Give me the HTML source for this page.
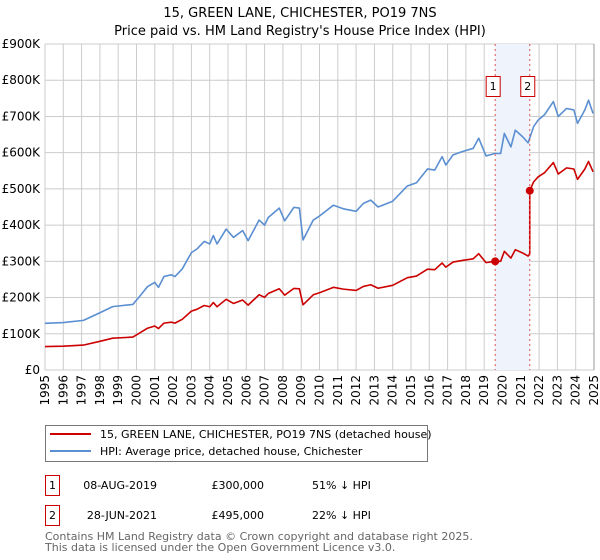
<!DOCTYPE html>
<html><head><meta charset="utf-8"><style>
body{margin:0;background:#fff;font-family:"DejaVu Sans","Liberation Sans",sans-serif;}
svg{display:block}
</style></head><body>
<svg id="chart" width="600" height="560" viewBox="0 0 600 560" xmlns="http://www.w3.org/2000/svg" font-family="DejaVu Sans, Liberation Sans, sans-serif">
<text x="300" y="17" text-anchor="middle" font-size="13">15, GREEN LANE, CHICHESTER, PO19 7NS</text>
<text x="300" y="35" text-anchor="middle" font-size="13">Price paid vs. HM Land Registry's House Price Index (HPI)</text>
<g id="grid"></g><g id="band"></g><g id="series"></g><g id="axes"></g>
<g>
<rect x="45.5" y="425.5" width="382" height="36" fill="#fff" stroke="#777"/>
<line x1="50" y1="434" x2="91" y2="434" stroke="#cc0000" stroke-width="2"/>
<text x="100" y="438" font-size="11">15, GREEN LANE, CHICHESTER, PO19 7NS (detached house)</text>
<line x1="50" y1="451" x2="91" y2="451" stroke="#5b8fd1" stroke-width="2"/>
<text x="100" y="455" font-size="11">HPI: Average price, detached house, Chichester</text>
</g>
<g font-size="11">
<rect x="45.5" y="475.5" width="14" height="20" fill="#fff" stroke="#cc0000"/>
<text x="52.5" y="489" text-anchor="middle">1</text>
<text x="157" y="489" text-anchor="end">08-AUG-2019</text>
<text x="264" y="489" text-anchor="end">£300,000</text>
<text x="312" y="489">51% ↓ HPI</text>
<rect x="45.5" y="505.5" width="14" height="20" fill="#fff" stroke="#cc0000"/>
<text x="52.5" y="519" text-anchor="middle">2</text>
<text x="157" y="519" text-anchor="end">28-JUN-2021</text>
<text x="264" y="519" text-anchor="end">£495,000</text>
<text x="312" y="519">22% ↓ HPI</text>
</g>
<text x="45" y="540" font-size="11" fill="#666">Contains HM Land Registry data © Crown copyright and database right 2025.</text>
<text x="45" y="551" font-size="11" fill="#666">This data is licensed under the Open Government Licence v3.0.</text>
</svg>
<script>
const hpiDates=[1995,1996,1997.1,1998,1998.7,1999.8,2000.2,2000.6,2001,2001.2,2001.5,2001.9,2002.1,2002.5,2003,2003.3,2003.7,2004,2004.2,2004.4,2004.9,2005.3,2005.8,2006.1,2006.7,2007,2007.2,2007.8,2008.1,2008.6,2008.9,2009.1,2009.66,2010,2010.76,2011.3,2012,2012.4,2012.8,2013.2,2014,2014.8,2015.3,2015.9,2016.3,2016.7,2016.9,2017.3,2017.8,2018.4,2018.7,2019.1,2019.6,2019.9,2020.1,2020.46,2020.7,2021.1,2021.4,2021.7,2021.95,2022.3,2022.78,2023.05,2023.5,2023.9,2024.1,2024.5,2024.7,2024.95];
const hpiValues=[129,131,137,158,175,181,205,230,242,228,258,263,258,279,324,334,355,348,371,348,389,366,385,357,414,400,421,447,412,449,447,359,414,425,455,445,438,460,469,450,466,508,517,555,552,589,566,594,603,612,640,591,598,598,653,616,662,644,627,672,690,705,741,700,722,718,681,718,745,708];
const saleDates=[2019.6,2021.49];
const salePrices=[300,495];
const saleLabels=["1","2"];
const yTicks=[0,100,200,300,400,500,600,700,800,900];
const yTickLabels=["£0","£100K","£200K","£300K","£400K","£500K","£600K","£700K","£800K","£900K"];
const xYears=[1995,1996,1997,1998,1999,2000,2001,2002,2003,2004,2005,2006,2007,2008,2009,2010,2011,2012,2013,2014,2015,2016,2017,2018,2019,2020,2021,2022,2023,2024,2025];
const X0=45,X1=594,Y0=370,Y1=44;
const xs=t=>X0+(t-1995)*(X1-X0)/30;
const ys=v=>Y0-v*(Y0-Y1)/900;
const NS="http://www.w3.org/2000/svg";
function mk(tag,parent,attrs){const e=document.createElementNS(NS,tag);for(const k in attrs)e.setAttribute(k,attrs[k]);parent.appendChild(e);return e;}
function hpiAt(t){for(let i=0;i<hpiDates.length-1;i++){if(t>=hpiDates[i]&&t<=hpiDates[i+1]){const f=(t-hpiDates[i])/(hpiDates[i+1]-hpiDates[i]);return hpiValues[i]+f*(hpiValues[i+1]-hpiValues[i]);}}return hpiValues[hpiValues.length-1];}
const grid=document.getElementById('grid'),band=document.getElementById('band'),ser=document.getElementById('series'),ax=document.getElementById('axes');
yTicks.forEach((v,i)=>{
 const l=mk('line',grid,{x1:X0,x2:X1,y1:ys(v),y2:ys(v),stroke:'#ccc','stroke-width':1});
 
 
 const t=mk('text',ax,{x:X0-5,y:ys(v)+4,'text-anchor':'end','font-size':12});
 t.textContent=yTickLabels[i];
 
 
});
xYears.forEach(y=>{
 const l=mk('line',grid,{x1:xs(y),x2:xs(y),y1:Y1,y2:Y0,stroke:'#ccc','stroke-width':1});
 
 
 const t=mk('text',ax,{x:0,y:0,'text-anchor':'end','font-size':12,transform:`translate(${xs(y)+4},375) rotate(-90)`});
 t.textContent=y;
 
 
});
mk('line',ax,{x1:X1,x2:X1,y1:Y1,y2:Y0,stroke:'#999'});
const b=mk('rect',band,{x:xs(saleDates[0]),y:Y1,width:xs(saleDates[1])-xs(saleDates[0]),height:Y0-Y1,fill:'#eef3fc'});


// HPI line
const hp=mk('polyline',ser,{points:hpiDates.map((d,i)=>xs(d)+','+ys(hpiValues[i])).join(' '),fill:'none',stroke:'#5b8fd1','stroke-width':1.6,'stroke-linejoin':'round'});


// property line: indexed from sale prices
const pts=[];
hpiDates.forEach((d,i)=>{
 if(d<saleDates[1]){pts.push([d,salePrices[0]*hpiValues[i]/hpiAt(saleDates[0])]);}
});
pts.push([saleDates[1],salePrices[0]*hpiAt(saleDates[1])/hpiAt(saleDates[0])]);
pts.push([saleDates[1],salePrices[1]]);
hpiDates.forEach((d,i)=>{if(d>saleDates[1])pts.push([d,salePrices[1]*hpiValues[i]/hpiAt(saleDates[1])]);});
const pl=mk('polyline',ser,{points:pts.map(p=>xs(p[0])+','+ys(p[1])).join(' '),fill:'none',stroke:'#cc0000','stroke-width':1.6,'stroke-linejoin':'round'});


saleDates.forEach((d,i)=>{
 const l=mk('line',ser,{x1:xs(d),x2:xs(d),y1:Y1,y2:Y0,stroke:'#e05555','stroke-dasharray':'2,3','stroke-width':1});
 
 
 const c=mk('circle',ser,{cx:xs(d),cy:ys(salePrices[i]),r:4,fill:'#cc0000'});
 
 
 const r=mk('rect',ser,{x:xs(d)-9,y:76.5,width:14,height:20,fill:'#fff',stroke:'#cc0000'});
 
 
 const t=mk('text',ser,{x:xs(d)-2,y:90,'text-anchor':'middle','font-size':11});
 t.textContent=saleLabels[i];
 
 
});
</script>
</body></html>
